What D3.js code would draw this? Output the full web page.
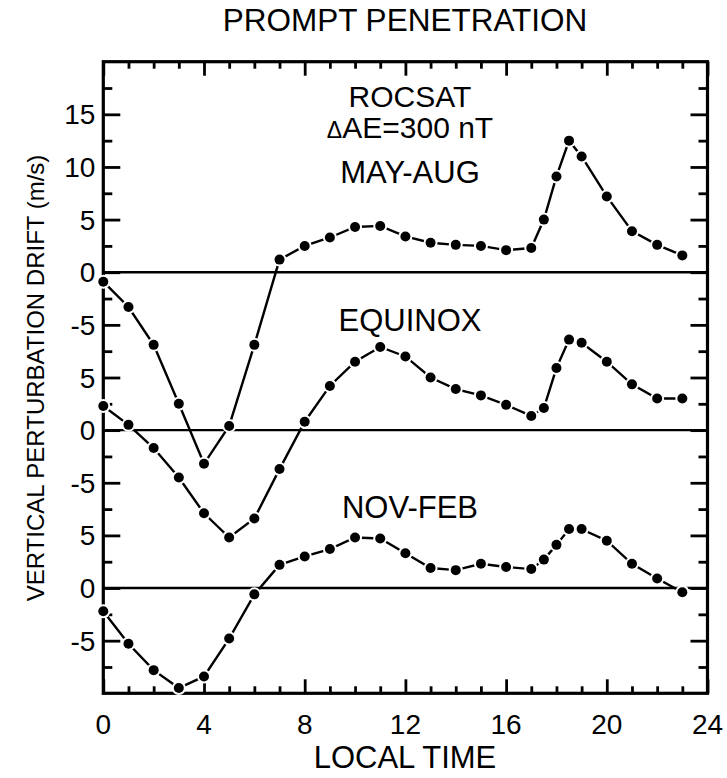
<!DOCTYPE html>
<html>
<head>
<meta charset="utf-8">
<script src="https://cdn.jsdelivr.net/npm/d3@7/dist/d3.min.js"></script>
<style>
  html, body { margin: 0; padding: 0; background: #fff; }
  svg text { font-family: "Liberation Sans", Arial, Helvetica, sans-serif; fill: #000; }
</style>
</head>
<body>
<div id="chart"></div>
<script>
// ---- data ----
const hours = [0,1,2,3,4,5,6,7,8,9,10,11,12,13,14,15,16,17,17.5,18,18.5,19,20,21,22,23];
const mayAug  = [-0.9,-3.3,-6.9,-12.5,-18.2,-14.6,-6.9,1.2,2.5,3.3,4.3,4.4,3.4,2.8,2.6,2.5,2.1,2.3,5.0,9.1,12.5,11.0,7.2,3.9,2.6,1.6];
const equinox = [2.3,0.5,-1.7,-4.5,-7.9,-10.2,-8.4,-3.7,0.8,4.2,6.5,7.9,7.0,5.0,3.9,3.3,2.4,1.35,2.1,5.9,8.6,8.3,6.5,4.35,3.0,3.0];
const novFeb  = [-2.2,-5.3,-7.8,-9.5,-8.4,-4.8,-0.6,2.2,3.0,3.7,4.8,4.7,3.3,1.9,1.7,2.3,2.0,1.8,2.7,4.1,5.6,5.6,4.5,2.3,0.9,-0.4];
const seriesNames = ["MAY-AUG","EQUINOX","NOV-FEB"];
const seriesOffsets = [30,15,0];
const yTickValues = [-5,0,5,10,15,20,25,30,35,40,45];
const yTickLabels = ["-5","0","5","-5","0","5","-5","0","5","10","15"];
const xTickValues = [0,4,8,12,16,20,24];
const xTickLabels = ["0","4","8","12","16","20","24"];
const titleText = "PROMPT PENETRATION";
const xLabel = "LOCAL TIME";
const yLabel = "VERTICAL PERTURBATION DRIFT (m/s)";

// ---- layout ----
const W = 727, H = 778;
const L = 103.3, R = 707.5, T = 61.7, B = 693.3;
const svg = d3.select("#chart").append("svg").attr("width", W).attr("height", H);

const x = d3.scaleLinear().domain([0,24]).range([L,R]);
const y = d3.scaleLinear().domain([-10,50]).range([B,T]);

// zero lines
svg.append("g").selectAll("line").data(seriesOffsets).join("line")
  .attr("x1", L).attr("x2", R)
  .attr("y1", d => y(d)).attr("y2", d => y(d))
  .attr("stroke", "#000").attr("stroke-width", 2.4);

function styleAxis(g, width) {
  g.select(".domain").remove();
  g.selectAll(".tick line").attr("stroke", "#000").attr("stroke-width", width);
}
const minorY = d3.range(-7.5, 50, 5);
const minorX = d3.range(0, 25, 1).filter(v => v % 4 !== 0);

// left axis
svg.append("g").attr("transform", `translate(${L},0)`)
  .call(d3.axisRight(y).tickValues(yTickValues).tickSize(17).tickFormat(""))
  .call(g => styleAxis(g, 2.8));
svg.append("g").attr("transform", `translate(${L},0)`)
  .call(d3.axisRight(y).tickValues(minorY).tickSize(9).tickFormat(""))
  .call(g => styleAxis(g, 2.8));
svg.append("g").selectAll("text").data(yTickValues).join("text")
  .attr("x", L - 8).attr("y", d => y(d)).attr("dy", "0.36em")
  .attr("text-anchor", "end").attr("font-size", 28)
  .text((d,i) => yTickLabels[i]);

// right axis
svg.append("g").attr("transform", `translate(${R},0)`)
  .call(d3.axisLeft(y).tickValues(yTickValues).tickSize(17).tickFormat(""))
  .call(g => styleAxis(g, 2.8));
svg.append("g").attr("transform", `translate(${R},0)`)
  .call(d3.axisLeft(y).tickValues(minorY).tickSize(9).tickFormat(""))
  .call(g => styleAxis(g, 2.8));

// bottom axis
svg.append("g").attr("transform", `translate(0,${B})`)
  .call(d3.axisTop(x).tickValues(xTickValues).tickSize(14).tickFormat(""))
  .call(g => styleAxis(g, 2.8));
svg.append("g").attr("transform", `translate(0,${B})`)
  .call(d3.axisTop(x).tickValues(minorX).tickSize(7).tickFormat(""))
  .call(g => styleAxis(g, 2.8));
svg.append("g").selectAll("text").data(xTickValues).join("text")
  .attr("x", d => x(d)).attr("y", B + 41)
  .attr("text-anchor", "middle").attr("font-size", 28)
  .text((d,i) => xTickLabels[i]);

// top axis
svg.append("g").attr("transform", `translate(0,${T})`)
  .call(d3.axisBottom(x).tickValues(xTickValues).tickSize(14).tickFormat(""))
  .call(g => styleAxis(g, 2.8));
svg.append("g").attr("transform", `translate(0,${T})`)
  .call(d3.axisBottom(x).tickValues(minorX).tickSize(7).tickFormat(""))
  .call(g => styleAxis(g, 2.8));

// frame
svg.append("rect").attr("x", L).attr("y", T).attr("width", R - L).attr("height", B - T)
  .attr("fill", "none").attr("stroke", "#000").attr("stroke-width", 3.2);

// series
const allSeries = [mayAug, equinox, novFeb];
const line = d3.line().x(d => x(d[0])).y(d => y(d[1]));
allSeries.forEach((vals, si) => {
  const pts = hours.map((h, i) => [h, vals[i] + seriesOffsets[si]]);
  svg.append("path").datum(pts).attr("d", line)
    .attr("fill", "none").attr("stroke", "#000").attr("stroke-width", 2.4);
  svg.append("g").selectAll("circle").data(pts).join("circle")
    .attr("cx", d => x(d[0])).attr("cy", d => y(d[1])).attr("r", 7)
    .attr("fill", "#fff");
  svg.append("g").selectAll("circle").data(pts).join("circle")
    .attr("cx", d => x(d[0])).attr("cy", d => y(d[1])).attr("r", 5)
    .attr("fill", "#000");
});

// annotations
svg.append("text").attr("x", 410).attr("y", 107).attr("text-anchor", "middle")
  .attr("font-size", 30).text("ROCSAT");
const dt = svg.append("text").attr("x", 410).attr("y", 138).attr("text-anchor", "middle").attr("font-size", 30);
dt.append("tspan").attr("font-size", 23).text("Δ");
dt.append("tspan").text("AE=300 nT");
const annY = [183, 331, 518];
seriesNames.forEach((n, i) => {
  svg.append("text").attr("x", 410).attr("y", annY[i]).attr("text-anchor", "middle")
    .attr("font-size", 31).text(n);
});

// titles
svg.append("text").attr("x", 405).attr("y", 31).attr("text-anchor", "middle")
  .attr("font-size", 31.5).text(titleText);
svg.append("text").attr("x", 405).attr("y", 768).attr("text-anchor", "middle")
  .attr("font-size", 31).text(xLabel);
svg.append("text").attr("transform", `translate(44,378) rotate(-90)`)
  .attr("text-anchor", "middle").attr("font-size", 24).text(yLabel);
</script>
</body>
</html>
